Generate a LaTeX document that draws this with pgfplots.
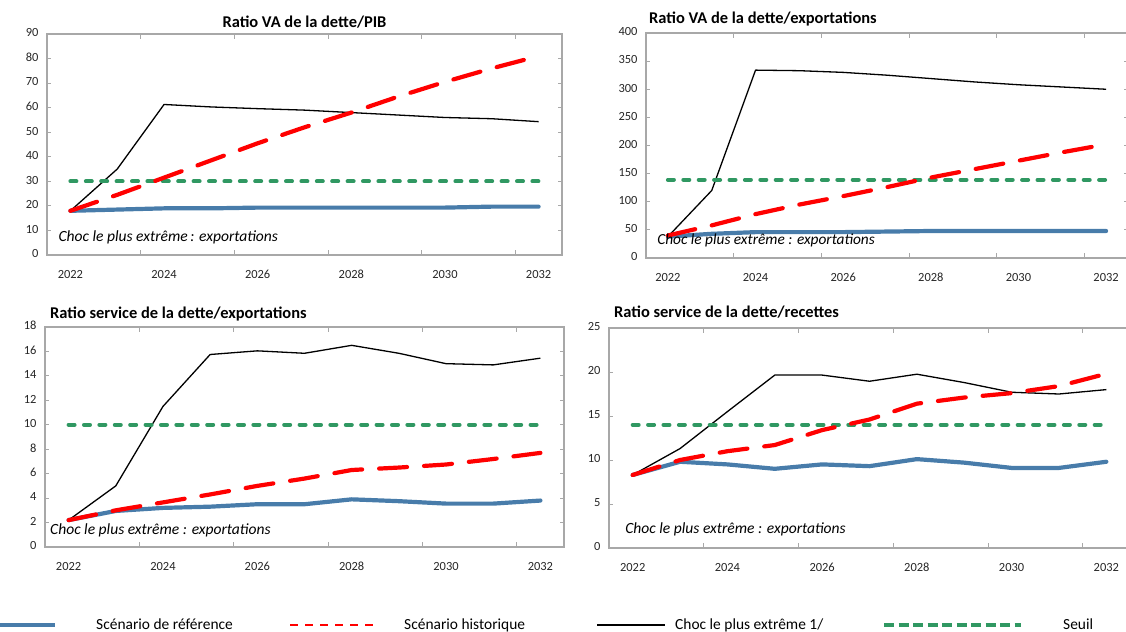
\documentclass[border=0pt]{standalone}
\usepackage{pgfplots}
\pgfplotsset{compat=1.18}
\usepackage{fontspec}
\setmainfont{Carlito}[Numbers={Lining,Tabular}]
\definecolor{refblue}{RGB}{72,124,170}
\definecolor{histred}{RGB}{255,0,0}
\definecolor{seuilgreen}{RGB}{48,152,98}
\definecolor{axisgray}{RGB}{168,168,168}

\pgfplotsset{
 panel/.style={
  scale only axis,
  anchor=south west,
  xmin=2021.5, xmax=2032.5,
  xtick={2022,2024,...,2032},
  minor xtick={2023.5,2025.5,2027.5,2029.5,2031.5},
  major x tick style={draw=none},
  minor x tick style={draw=axisgray, line width=0.8bp},
  minor tick length=5bp,
  major tick length=4bp,
  tick align=inside,
  major y tick style={draw=axisgray, line width=0.8bp},
  axis line style={draw=axisgray, line width=1.1bp},
  /pgf/number format/assume math mode=true,
  /pgf/number format/1000 sep={},
  ticklabel style={font=\fontsize{12.5}{14}\selectfont, text=black!85},
  typeset ticklabels with strut,
  xticklabel style={yshift=-10bp},
  yticklabel style={xshift=-5bp},
  clip=false,
 },
 refl/.style={refblue, line width=4.2bp, line join=round, line cap=round},
 histl/.style={histred, line width=4.2bp, line cap=round, line join=round, dash pattern=on 28bp off 17bp},
 chocl/.style={black, line width=1.3bp, line join=round},
 seuill/.style={seuilgreen, line width=4bp, line cap=round, dash pattern=on 6bp off 9.4bp},
}

\begin{document}
\begin{tikzpicture}
\useasboundingbox (0,0) rectangle (1126bp,-632bp);

% Panel 1
\begin{axis}[panel, at={(47bp,-255bp)}, width=515bp, height=221bp,
  ymin=0, ymax=90, ytick={0,10,...,90}]
\addplot[refl] coordinates {(2022,18.0)(2023,18.5)(2024,19.0)(2025,19.0)(2026,19.3)(2027,19.3)(2028,19.3)(2029,19.3)(2030,19.3)(2031,19.7)(2032,19.7)};
\addplot[chocl] coordinates {(2022,18.0)(2023,35.0)(2024,61.3)(2025,60.3)(2026,59.6)(2027,59.0)(2028,58.0)(2029,57.0)(2030,56.0)(2031,55.5)(2032,54.3)};
\addplot[seuill] coordinates {(2022,30)(2023,30)(2024,30)(2025,30)(2026,30)(2027,30)(2028,30)(2029,30)(2030,30)(2031,30)(2032,30)};
\addplot[histl] coordinates {(2022,18.0)(2023,24.5)(2024,31.5)(2025,38.5)(2026,45.5)(2027,52.0)(2028,58.0)(2029,64.5)(2030,70.5)(2031,76.0)(2032,81.0)};
\node[anchor=base, font=\fontsize{16.5}{18}\bfseries] at (axis description cs:0.5,1) [yshift=7bp] {Ratio VA de la dette/PIB};
\node[anchor=base west, inner sep=0pt, font=\fontsize{15.6}{17}\itshape] at (axis description cs:0.022,0.059) {Choc le plus extrême\,: exportations};
\end{axis}

% Panel 2
\begin{axis}[panel, at={(646bp,-258bp)}, width=482bp, height=225bp,
  ymin=0, ymax=400, ytick={0,50,...,400}]
\addplot[refl] coordinates {(2022,38)(2023,43)(2024,46)(2025,46)(2026,46)(2027,47)(2028,48)(2029,48)(2030,48)(2031,48)(2032,48)};
\addplot[chocl] coordinates {(2022,38)(2023,120)(2024,334)(2025,333)(2026,330)(2027,325)(2028,319)(2029,313)(2030,308)(2031,304)(2032,300)};
\addplot[seuill] coordinates {(2022,139)(2023,139)(2024,139)(2025,139)(2026,139)(2027,139)(2028,139)(2029,139)(2030,139)(2031,139)(2032,139)};
\addplot[histl] coordinates {(2022,40)(2023,58)(2024,78)(2025,95)(2026,110)(2027,126)(2028,143)(2029,158)(2030,173)(2031,188)(2032,202)};
\node[anchor=base west, inner sep=0pt, font=\fontsize{16.5}{18}\bfseries] at (axis description cs:0,1) [xshift=3bp, yshift=10bp] {Ratio VA de la dette/exportations};
\node[anchor=base west, inner sep=0pt, font=\fontsize{15.4}{17}\itshape] at (axis description cs:0.023,0.058) {Choc le plus extrême : exportations};
\end{axis}

% Panel 3
\begin{axis}[panel, at={(45bp,-547bp)}, width=519bp, height=220bp,
  ymin=0, ymax=18, ytick={0,2,...,18}]
\addplot[refl] coordinates {(2022,2.2)(2023,2.95)(2024,3.2)(2025,3.3)(2026,3.5)(2027,3.5)(2028,3.9)(2029,3.75)(2030,3.55)(2031,3.55)(2032,3.8)};
\addplot[chocl] coordinates {(2022,2.2)(2023,5.0)(2024,11.5)(2025,15.75)(2026,16.05)(2027,15.85)(2028,16.5)(2029,15.85)(2030,15.0)(2031,14.9)(2032,15.45)};
\addplot[seuill] coordinates {(2022,10)(2023,10)(2024,10)(2025,10)(2026,10)(2027,10)(2028,10)(2029,10)(2030,10)(2031,10)(2032,10)};
\addplot[histl] coordinates {(2022,2.2)(2023,3.0)(2024,3.65)(2025,4.3)(2026,5.0)(2027,5.6)(2028,6.3)(2029,6.5)(2030,6.75)(2031,7.2)(2032,7.7)};
\node[anchor=base west, inner sep=0pt, font=\fontsize{16.5}{18}\bfseries] at (axis description cs:0,1) [xshift=5bp, yshift=9bp] {Ratio service de la dette/exportations};
\node[anchor=base west, inner sep=0pt, font=\fontsize{15.6}{17}\itshape] at (axis description cs:0.0096,0.059) {Choc le plus extrême : exportations};
\end{axis}

% Panel 4
\begin{axis}[panel, at={(609bp,-548bp)}, width=521bp, height=220bp,
  ymin=0, ymax=25, ytick={0,5,...,25}]
\addplot[refl] coordinates {(2022,8.3)(2023,9.8)(2024,9.5)(2025,9.0)(2026,9.5)(2027,9.3)(2028,10.1)(2029,9.7)(2030,9.1)(2031,9.1)(2032,9.8)};
\addplot[chocl] coordinates {(2022,8.3)(2023,11.3)(2024,15.5)(2025,19.65)(2026,19.65)(2027,18.95)(2028,19.75)(2029,18.8)(2030,17.7)(2031,17.5)(2032,18.0)};
\addplot[seuill] coordinates {(2022,14)(2023,14)(2024,14)(2025,14)(2026,14)(2027,14)(2028,14)(2029,14)(2030,14)(2031,14)(2032,14)};
\addplot[histl] coordinates {(2022,8.3)(2023,10.0)(2024,11.0)(2025,11.7)(2026,13.4)(2027,14.6)(2028,16.4)(2029,17.1)(2030,17.6)(2031,18.4)(2032,19.8)};
\node[anchor=base west, inner sep=0pt, font=\fontsize{16.5}{18}\bfseries] at (axis description cs:0,1) [xshift=5bp, yshift=11bp] {Ratio service de la dette/recettes};
\node[anchor=base west, inner sep=0pt, font=\fontsize{15.6}{17}\itshape] at (axis description cs:0.031,0.064) {Choc le plus extrême : exportations};
\end{axis}

% Legend
\begin{scope}[font=\fontsize{15.5}{17}\selectfont]
\draw[refblue, line width=3.5bp] (0bp,-625bp) -- (55bp,-625bp);
\node[anchor=base west, inner sep=0pt] at (96bp,-629bp) {Scénario de référence};
\draw[histred, line width=2.6bp, dash pattern=on 8bp off 7bp] (290bp,-625bp) -- (374bp,-625bp);
\node[anchor=base west, inner sep=0pt] at (404bp,-629bp) {Scénario historique};
\draw[black, line width=2.4bp] (597bp,-625bp) -- (665bp,-625bp);
\node[anchor=base west, inner sep=0pt] at (675bp,-629bp) {Choc le plus extrême 1/};
\draw[seuilgreen, line width=3.5bp, dash pattern=on 10bp off 4.5bp] (884bp,-625bp) -- (1021bp,-625bp);
\node[anchor=base west, inner sep=0pt] at (1063bp,-629bp) {Seuil};
\end{scope}
\end{tikzpicture}
\end{document}
